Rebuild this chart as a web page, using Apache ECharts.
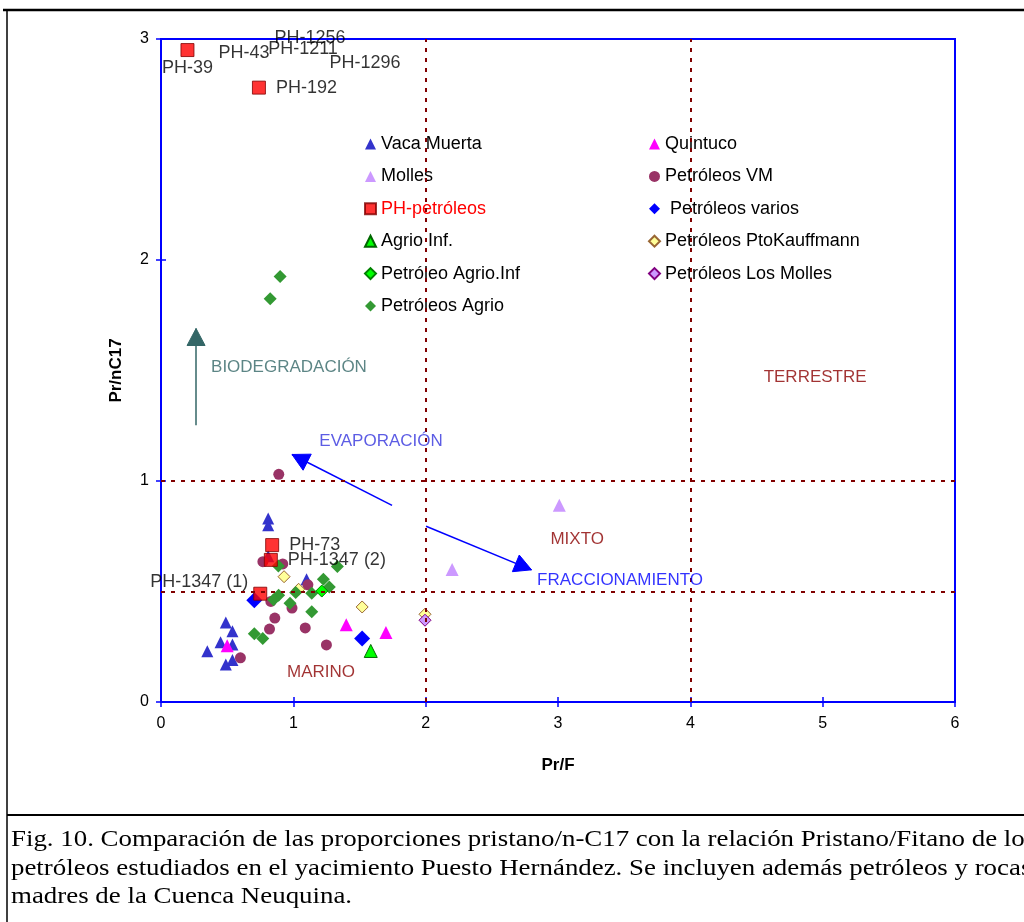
<!DOCTYPE html>
<html>
<head>
<meta charset="utf-8">
<script src="https://cdn.jsdelivr.net/npm/echarts@6/dist/echarts.min.js"></script>
<style>
  html, body { margin: 0; padding: 0; background: #fff; }
  #chart { width: 1024px; height: 922px; }
</style>
</head>
<body>
<div id="chart"></div>
<script>
// Pr/F (x) vs Pr/nC17 (y) for each sample group
const vacaMuerta = [[0.81, 0.83], [0.81, 0.80], [0.81, 0.66], [1.10, 0.555], [0.49, 0.36], [0.54, 0.32],
  [0.45, 0.27], [0.54, 0.26], [0.35, 0.23], [0.54, 0.19], [0.49, 0.17]];
const quintuco = [[0.50, 0.255], [1.40, 0.35], [1.70, 0.315]];
const molles = [[2.20, 0.60], [3.01, 0.89]];
const petroleosVM = [[0.89, 1.03], [0.77, 0.635], [0.92, 0.625], [1.11, 0.53], [0.83, 0.455], [0.99, 0.425],
  [0.86, 0.38], [0.82, 0.33], [1.09, 0.335], [1.25, 0.258], [0.60, 0.20]];
const phNames = ['PH-39', 'PH-192', 'PH-73', 'PH-1347 (2)', 'PH-1347 (1)'];
const phValues = [[0.20, 2.95], [0.74, 2.78], [0.84, 0.71], [0.83, 0.643], [0.75, 0.49]];
const petroleosVarios = [[0.705, 0.46], [1.52, 0.287]];
const agrioInf = [[1.585, 0.231]];
const ptoKauffmann = [[0.93, 0.567], [1.04, 0.51], [1.52, 0.43], [1.995, 0.397]];
const petroleoAgrioInf = [[1.215, 0.502]];
const losMolles = [[1.995, 0.37]];
const petroleosAgrio = [[0.90, 1.925], [0.825, 1.825], [0.887, 0.615], [1.333, 0.613], [1.227, 0.555],
  [1.272, 0.52], [1.139, 0.492], [1.018, 0.495], [0.889, 0.483], [0.85, 0.463], [0.975, 0.447],
  [1.139, 0.408], [0.705, 0.309], [0.769, 0.287]];

// PH samples above the y-axis range: only their names are shown along the top edge
const phOffScale = [[0.627, 2.935, 'PH-43'], [1.073, 2.953, 'PH-1211'], [1.126, 3.005, 'PH-1256'], [1.542, 2.892, 'PH-1296']];

// field boundaries (Pr/F and Pr/nC17)
const dividerX = [2, 4];
const dividerY = [1, 0.5];

// trend arrows [from, to]
const arrows = [
  { from: [0.265, 1.252], to: [0.265, 1.69], color: '#336666' },
  { from: [1.746, 0.89], to: [0.99, 1.12], color: '#0000FF' },
  { from: [2.003, 0.795], to: [2.80, 0.598], color: '#0000FF' }
];

// text annotations [x, y, text, colour]
const annotations = [
  [0.967, 1.515, 'BIODEGRADACIÓN', '#336666'],
  [1.663, 1.181, 'EVAPORACIÓN', '#3333DD'],
  [3.469, 0.551, 'FRACCIONAMIENTO', '#0000FF'],
  [4.943, 1.469, 'TERRESTRE', '#8B0000'],
  [3.145, 0.736, 'MIXTO', '#8B0000'],
  [1.209, 0.134, 'MARINO', '#8B0000']
];

const xTicks = { min: 0, max: 6, interval: 1 };
const yTicks = { min: 0, max: 3, interval: 1 };

const FONT = 'Liberation Sans, Arial, sans-serif';
const SERIF = '"Liberation Serif", "Times New Roman", serif';
const phLabelPos = {
  'PH-39': { position: 'bottom', distance: 2 },
  'PH-192': { position: 'right', distance: 10 },
  'PH-73': { position: 'right', distance: 10 },
  'PH-1347 (2)': { position: 'right', distance: 10 },
  'PH-1347 (1)': { position: 'left', distance: 5, offset: [0, -12] }
};

function scatter(name, data, symbol, size, fill, border, z) {
  return {
    name, type: 'scatter', data, symbol, symbolSize: size, z: z || 2,
    itemStyle: { color: fill, borderColor: border || fill, borderWidth: border ? 1 : 0, opacity: 1 },
    emphasis: { disabled: true }
  };
}

const chart = echarts.init(document.getElementById('chart'), null, { renderer: 'canvas' });

const series = [
  scatter('Vaca Muerta', vacaMuerta, 'triangle', 12, '#3333CC'),
  scatter('Quintuco', quintuco, 'triangle', 13, '#FF00FF'),
  scatter('Molles', molles, 'triangle', 13, '#CC99FF'),
  scatter('Petróleos VM', petroleosVM, 'circle', 11, '#993366'),
  scatter('Petróleos varios', petroleosVarios, 'diamond', 16, '#0000FF', null, 3),
  scatter('Agrio Inf.', agrioInf, 'triangle', 13, '#00FF00', '#006600'),
  scatter('Petróleos PtoKauffmann', ptoKauffmann, 'diamond', 12, '#FFFF99', '#996633'),
  scatter('Petróleos Los Molles', losMolles, 'diamond', 12, '#CC99FF', '#800080'),
  scatter('Petróleos Agrio', petroleosAgrio, 'diamond', 13, '#339933'),
  scatter('Petróleo Agrio.Inf', petroleoAgrioInf, 'diamond', 12, '#00FF00', '#008000', 3),
  {
    name: 'PH-petróleos', type: 'scatter', symbol: 'rect', symbolSize: 13, z: 4,
    itemStyle: { color: '#FF0000', borderColor: '#800000', borderWidth: 1 },
    emphasis: { disabled: true },
    data: phValues.map((v, i) => ({
      value: v, name: phNames[i],
      label: Object.assign({ show: true, formatter: phNames[i], color: '#000', fontSize: 18, fontFamily: FONT }, phLabelPos[phNames[i]])
    }))
  },
  {
    name: 'phOffScale', type: 'scatter', data: phOffScale, symbolSize: 1, clip: false, z: 4,
    itemStyle: { color: 'rgba(0,0,0,0)' }, silent: true,
    label: { show: true, position: 'inside', formatter: p => p.data[2], color: '#000', fontSize: 18, fontFamily: FONT }
  },
  {
    name: 'annotations', type: 'scatter', symbolSize: 1, z: 5,
    itemStyle: { color: 'rgba(0,0,0,0)' }, silent: true,
    data: annotations.map(a => ({ value: [a[0], a[1], a[2]], label: { color: a[3] } })),
    label: { show: true, position: 'inside', fontSize: 17, fontFamily: FONT, formatter: p => p.value[2] }
  },
  {
    name: 'arrowShafts', type: 'lines', coordinateSystem: 'cartesian2d', polyline: false, z: 3, silent: true,
    symbol: ['none', 'none'],
    data: arrows.map(a => ({ coords: [a.from, a.to], lineStyle: { color: a.color, width: 1.5, opacity: 1 } })),
    lineStyle: { width: 1.5, opacity: 1, curveness: 0 }
  },
  {
    name: 'dividers', type: 'line', data: [], silent: true, z: 1,
    markLine: {
      silent: true, symbol: ['none', 'none'], label: { show: false },
      lineStyle: { color: '#800000', type: [4, 6], width: 2 },
      emphasis: { disabled: true },
      data: dividerX.map(v => ({ xAxis: v })).concat(dividerY.map(v => ({ yAxis: v })))
    }
  }
];

const axisCommon = (t) => ({
  type: 'value', min: t.min, max: t.max, interval: t.interval,
  splitLine: { show: false }
});

const legendText = { fontSize: 18, color: '#000', fontFamily: FONT };

const frameAndCaption = [
  { type: 'line', shape: { x1: 3, y1: 10, x2: 1024, y2: 10 }, style: { stroke: '#000', lineWidth: 2.5 }, silent: true },
  { type: 'line', shape: { x1: 7, y1: 10, x2: 7, y2: 922 }, style: { stroke: '#000', lineWidth: 1.5 }, silent: true },
  { type: 'line', shape: { x1: 7, y1: 815, x2: 1024, y2: 815 }, style: { stroke: '#000', lineWidth: 2 }, silent: true },
  { type: 'text', x: 11, y: 840, scaleX: 1.12, style: { text: 'Fig. 10. Comparación de las proporciones pristano/n-C17 con la relación Pristano/Fitano de los', font: '24px ' + SERIF, fill: '#000', textVerticalAlign: 'middle' } },
  { type: 'text', x: 11, y: 869, scaleX: 1.12, style: { text: 'petróleos estudiados en el yacimiento Puesto Hernández. Se incluyen además petróleos y rocas', font: '24px ' + SERIF, fill: '#000', textVerticalAlign: 'middle' } },
  { type: 'text', x: 11, y: 897, scaleX: 1.12, style: { text: 'madres de la Cuenca Neuquina.', font: '24px ' + SERIF, fill: '#000', textVerticalAlign: 'middle' } }
];

const option = {
  animation: false,
  backgroundColor: '#fff',
  textStyle: { fontFamily: FONT },
  grid: { left: 161, right: 69, top: 39, bottom: 220, show: true, borderColor: '#0000FF', borderWidth: 2, outerBoundsMode: 'none', containLabel: false },
  legend: [
    {
      orient: 'vertical', left: 359, top: 130, itemGap: 14.4, itemWidth: 11, itemHeight: 11,
      textStyle: legendText, selectedMode: false,
      data: ['Vaca Muerta', 'Molles', { name: 'PH-petróleos', textStyle: { color: '#FF0000' } }, 'Agrio Inf.', 'Petróleo Agrio.Inf', 'Petróleos Agrio']
    },
    {
      orient: 'vertical', left: 643, top: 130, itemGap: 14.4, itemWidth: 11, itemHeight: 11,
      textStyle: legendText, selectedMode: false,
      formatter: name => (name === 'Petróleos varios' ? ' ' + name : name),
      data: ['Quintuco', 'Petróleos VM', 'Petróleos varios', 'Petróleos PtoKauffmann', 'Petróleos Los Molles']
    }
  ],
  xAxis: [
    Object.assign(axisCommon(xTicks), {
      name: 'Pr/F', nameLocation: 'middle', nameGap: 55,
      nameTextStyle: { fontWeight: 'bold', fontSize: 17, color: '#000', fontFamily: FONT },
      axisLine: { show: true, lineStyle: { color: '#0000FF', width: 2 } },
      axisTick: { show: true, length: 5, lineStyle: { color: '#0000FF', width: 1.5 } },
      axisLabel: { fontSize: 16, color: '#000', margin: 14, fontFamily: FONT }
    }),
    Object.assign(axisCommon(xTicks), {
      position: 'bottom',
      axisLine: { show: false },
      axisTick: { show: true, inside: true, length: 5, lineStyle: { color: '#0000FF', width: 1.5 } },
      axisLabel: { show: false }
    })
  ],
  yAxis: [
    Object.assign(axisCommon(yTicks), {
      name: 'Pr/nC17', nameLocation: 'middle', nameGap: 36, nameRotate: 90,
      nameTextStyle: { fontWeight: 'bold', fontSize: 17, color: '#000', fontFamily: FONT },
      axisLine: { show: true, lineStyle: { color: '#0000FF', width: 2 } },
      axisTick: { show: true, length: 5, lineStyle: { color: '#0000FF', width: 1.5 } },
      axisLabel: { fontSize: 16, color: '#000', margin: 12, fontFamily: FONT }
    }),
    Object.assign(axisCommon(yTicks), {
      position: 'left',
      axisLine: { show: false },
      axisTick: { show: true, inside: true, length: 5, lineStyle: { color: '#0000FF', width: 1.5 } },
      axisLabel: { show: false }
    })
  ],
  series,
  graphic: frameAndCaption
};

chart.setOption(option);

// arrow heads: filled triangles at each arrow tip, oriented along the shaft in pixel space
const HEAD_LEN = 17, HEAD_HALF = 9;
const heads = arrows.map(a => {
  const p0 = chart.convertToPixel({ gridIndex: 0 }, a.from);
  const p1 = chart.convertToPixel({ gridIndex: 0 }, a.to);
  const dx = p1[0] - p0[0], dy = p1[1] - p0[1];
  const len = Math.hypot(dx, dy);
  const ux = dx / len, uy = dy / len;
  const bx = p1[0] - ux * HEAD_LEN, by = p1[1] - uy * HEAD_LEN;
  return {
    type: 'polygon', silent: true, z: 10,
    shape: { points: [p1, [bx - uy * HEAD_HALF, by + ux * HEAD_HALF], [bx + uy * HEAD_HALF, by - ux * HEAD_HALF]] },
    style: { fill: a.color, stroke: a.color, lineWidth: 1 }
  };
});
chart.setOption({ graphic: frameAndCaption.concat(heads) });
</script>
</body>
</html>
